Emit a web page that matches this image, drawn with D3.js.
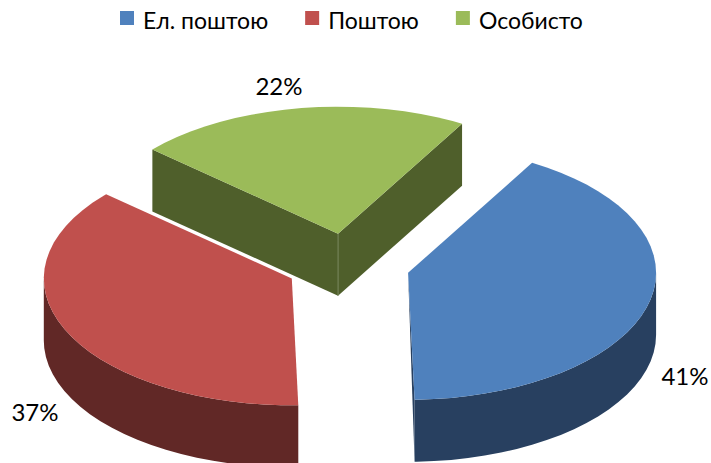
<!DOCTYPE html>
<html>
<head>
<meta charset="utf-8">
<script src="https://cdn.jsdelivr.net/npm/d3@7"></script>
<style>
  html, body { margin: 0; padding: 0; background: #fff; }
  svg { display: block; }
  text { font-family: Lato, "Open Sans", "Noto Sans", sans-serif; fill: #000; }
</style>
</head>
<body>
<div id="chart"></div>
<script>
var categories = ['Ел. поштою', 'Поштою', 'Особисто'];
// shares, the labels show them rounded
var values = [41.25, 36.95, 21.8];
var topColors = ['#4F81BD', '#C0504D', '#9BBB59'];
var sideColors = ['#284060', '#612826', '#4F5F2B'];

var width = 711, height = 463;
var cx = 348, cy = 265;      // centre of the pie before the slices are pulled out
var rx = 248, ry = 127;      // tilted ellipse
var depth = 62;
var explode = 0.25;
var step = Math.PI / 45;

var svg = d3.select('#chart').append('svg')
  .attr('width', width)
  .attr('height', height)
  .attr('viewBox', '0 0 ' + width + ' ' + height);

var topColor = d3.scaleOrdinal().domain(categories).range(topColors);
var sideColor = d3.scaleOrdinal().domain(categories).range(sideColors);

// unit circle -> screen
var xScale = d3.scaleLinear().domain([-1, 1]).range([cx - rx, cx + rx]);
var yScale = d3.scaleLinear().domain([-1, 1]).range([cy - ry, cy + ry]);

var pie = d3.pie()
  .sort(null)
  .value(function (d) { return d; })
  .startAngle(Math.PI / 6)
  .endAngle(Math.PI / 6 + 2 * Math.PI);

var slices = pie(values).map(function (d, i) {
  var mid = (d.startAngle + d.endAngle) / 2;
  return {
    name: categories[i],
    value: d.value,
    start: d.startAngle,
    end: d.endAngle,
    ox: explode * Math.sin(mid),
    oy: -explode * Math.cos(mid)
  };
});

// point on a slice: r is the fraction of the radius, drop is the distance below the top face
function pt(s, angle, r, drop) {
  return [
    xScale(s.ox + r * Math.sin(angle)),
    yScale(s.oy - r * Math.cos(angle)) + (drop || 0)
  ];
}

function arcPoints(s, from, to, drop) {
  var pts = d3.range(from, to, step).map(function (a) { return pt(s, a, 1, drop); });
  pts.push(pt(s, to, 1, drop));
  return pts;
}

var line = d3.line().curve(d3.curveLinear);

function wall(s, from, to) {
  return line(arcPoints(s, from, to, 0).concat(arcPoints(s, from, to, depth).reverse())) + 'Z';
}

function face(s, angle) {
  return line([pt(s, 0, 0), pt(s, angle, 1), pt(s, angle, 1, depth), pt(s, 0, 0, depth)]) + 'Z';
}

function topFace(s) {
  return line([pt(s, 0, 0)].concat(arcPoints(s, s.start, s.end, 0))) + 'Z';
}

var green = slices[2], red = slices[1], blue = slices[0];

// green sits at the back, only its two cut faces show
svg.append('path').attr('d', face(green, green.start)).attr('fill', sideColor(green.name));
svg.append('path').attr('d', face(green, green.end)).attr('fill', sideColor(green.name));
svg.append('path')
  .attr('d', line([pt(green, 0, 0), pt(green, 0, 0, depth)]))
  .attr('stroke', '#76865a').attr('stroke-width', 1).attr('fill', 'none');
svg.append('path').attr('d', topFace(green)).attr('fill', topColor(green.name));

// red: outer wall only
svg.append('path')
  .attr('d', wall(red, red.start, 3 * Math.PI / 2))
  .attr('fill', sideColor(red.name));
svg.append('path').attr('d', topFace(red)).attr('fill', topColor(red.name));

// blue: outer wall and the thin sliver of the cut face on its left
svg.append('path')
  .attr('d', wall(blue, Math.PI / 2, blue.end))
  .attr('fill', sideColor(blue.name));
svg.append('path')
  .attr('d', line([pt(blue, 0, 0), pt(blue, blue.end, 1), pt(blue, blue.end, 1, depth)]) + 'Z')
  .attr('fill', sideColor(blue.name));
svg.append('path').attr('d', topFace(blue)).attr('fill', topColor(blue.name));

// data labels
var labelPos = [[685, 385], [35, 421], [279, 95]];
svg.selectAll('.label')
  .data(slices)
  .enter().append('text')
  .attr('class', 'label')
  .attr('x', function (d, i) { return labelPos[i][0]; })
  .attr('y', function (d, i) { return labelPos[i][1]; })
  .attr('text-anchor', 'middle')
  .attr('font-size', '24px')
  .text(function (d) { return Math.round(d.value) + '%'; });

// legend, laid out from the measured text widths
var legendX = 120;
categories.forEach(function (name) {
  svg.append('rect')
    .attr('x', legendX).attr('y', 11)
    .attr('width', 14).attr('height', 14)
    .attr('fill', topColor(name));
  var t = svg.append('text')
    .attr('x', legendX + 23).attr('y', 29)
    .attr('font-size', '23px')
    .text(name);
  legendX += 23 + t.node().getComputedTextLength() + 37;
});
</script>
</body>
</html>
